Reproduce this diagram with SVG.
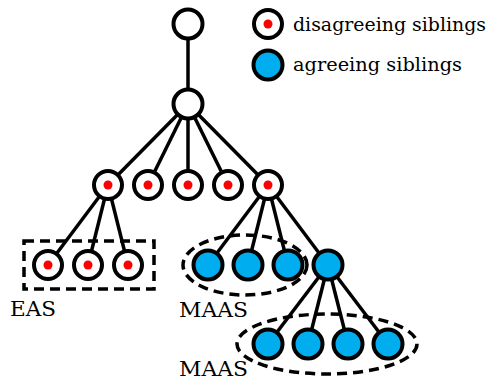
<svg xmlns="http://www.w3.org/2000/svg" width="493" height="381" viewBox="0 0 493 381">
  <style>
    .edge { stroke: #000; stroke-width: 3.5; fill: none; }
    .node { stroke: #000; stroke-width: 4; fill: #fff; }
    .agree { fill: #00aeef; }
    .dot { fill: #ff0000; }
    .group { stroke: #000; stroke-width: 3.5; fill: none; stroke-dasharray: 10 6; }
    .label { font-family: 'DejaVu Serif', 'Liberation Serif', serif; font-size: 20px; fill: #000; }
    .legend-text { font-size: 19px; }
  </style>
  <rect width="493" height="381" fill="#fff"/>

  <!-- connectors -->
  <g id="edges">
    <line class="edge" x1="188" y1="24" x2="188" y2="104"/>
    <line class="edge" x1="188" y1="104" x2="108" y2="185"/>
    <line class="edge" x1="188" y1="104" x2="148" y2="185"/>
    <line class="edge" x1="188" y1="104" x2="188" y2="185"/>
    <line class="edge" x1="188" y1="104" x2="228" y2="185"/>
    <line class="edge" x1="188" y1="104" x2="268" y2="185"/>
    <line class="edge" x1="108" y1="185" x2="48" y2="265"/>
    <line class="edge" x1="108" y1="185" x2="88" y2="265"/>
    <line class="edge" x1="108" y1="185" x2="128" y2="265"/>
    <line class="edge" x1="268" y1="185" x2="208" y2="265"/>
    <line class="edge" x1="268" y1="185" x2="248" y2="265"/>
    <line class="edge" x1="268" y1="185" x2="288" y2="265"/>
    <line class="edge" x1="268" y1="185" x2="328" y2="265"/>
    <line class="edge" x1="328" y1="265" x2="268" y2="344"/>
    <line class="edge" x1="328" y1="265" x2="308" y2="344"/>
    <line class="edge" x1="328" y1="265" x2="348" y2="344"/>
    <line class="edge" x1="328" y1="265" x2="388" y2="344"/>
  </g>

  <!-- sibling groupings -->
  <g id="groups">
    <rect class="group" x="24" y="241" width="130" height="48"/>
    <ellipse class="group" cx="245" cy="265" rx="62" ry="30"/>
    <ellipse class="group" cx="327" cy="344" rx="90" ry="30"/>
  </g>

  <!-- tree nodes -->
  <g id="n-root"><circle class="node" cx="188" cy="24" r="14.5"/></g>
  <g id="n-1"><circle class="node" cx="188" cy="104" r="14.5"/></g>

  <g id="n-2a"><circle class="node" cx="108" cy="185" r="14"/><circle class="dot" cx="108" cy="185" r="4.5"/></g>
  <g id="n-2b"><circle class="node" cx="148" cy="185" r="14"/><circle class="dot" cx="148" cy="185" r="4.5"/></g>
  <g id="n-2c"><circle class="node" cx="188" cy="185" r="14"/><circle class="dot" cx="188" cy="185" r="4.5"/></g>
  <g id="n-2d"><circle class="node" cx="228" cy="185" r="14"/><circle class="dot" cx="228" cy="185" r="4.5"/></g>
  <g id="n-2e"><circle class="node" cx="268" cy="185" r="14"/><circle class="dot" cx="268" cy="185" r="4.5"/></g>

  <g id="n-3a"><circle class="node" cx="48" cy="265" r="14"/><circle class="dot" cx="48" cy="265" r="4.5"/></g>
  <g id="n-3b"><circle class="node" cx="88" cy="265" r="14"/><circle class="dot" cx="88" cy="265" r="4.5"/></g>
  <g id="n-3c"><circle class="node" cx="128" cy="265" r="14"/><circle class="dot" cx="128" cy="265" r="4.5"/></g>

  <g id="n-3d"><circle class="node agree" cx="208" cy="265" r="14.5"/></g>
  <g id="n-3e"><circle class="node agree" cx="248" cy="265" r="14.5"/></g>
  <g id="n-3f"><circle class="node agree" cx="288" cy="265" r="14.5"/></g>
  <g id="n-3g"><circle class="node agree" cx="328" cy="265" r="14.5"/></g>

  <g id="n-4a"><circle class="node agree" cx="268" cy="344" r="14.5"/></g>
  <g id="n-4b"><circle class="node agree" cx="308" cy="344" r="14.5"/></g>
  <g id="n-4c"><circle class="node agree" cx="348" cy="344" r="14.5"/></g>
  <g id="n-4d"><circle class="node agree" cx="388" cy="344" r="14.5"/></g>

  <!-- group labels -->
  <g id="labels">
    <text class="label" x="10" y="316" textLength="46" lengthAdjust="spacingAndGlyphs">EAS</text>
    <text class="label" x="179" y="317" textLength="69" lengthAdjust="spacingAndGlyphs">MAAS</text>
    <text class="label" x="179" y="376" textLength="69" lengthAdjust="spacingAndGlyphs">MAAS</text>
  </g>

  <!-- legend -->
  <g id="legend">
    <g id="legend-disagree">
      <circle class="node" cx="268" cy="24" r="14"/><circle class="dot" cx="268" cy="24" r="4.5"/>
      <text class="label legend-text" x="293" y="31" textLength="193" lengthAdjust="spacingAndGlyphs">disagreeing siblings</text>
    </g>
    <g id="legend-agree">
      <circle class="node agree" cx="268" cy="65" r="14.5"/>
      <text class="label legend-text" x="293" y="71" textLength="169" lengthAdjust="spacingAndGlyphs">agreeing siblings</text>
    </g>
  </g>
</svg>
